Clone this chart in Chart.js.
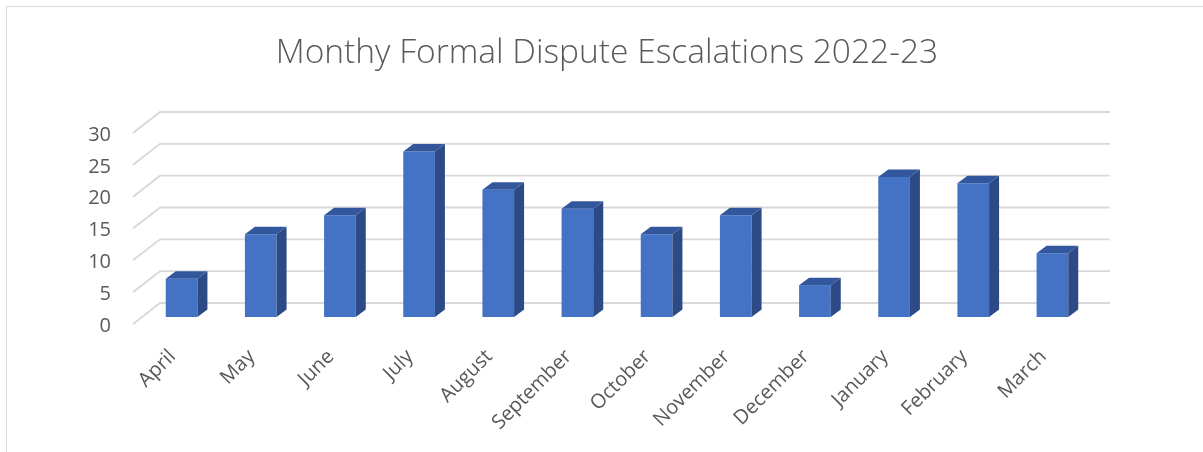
<!DOCTYPE html>
<html>
<head>
<meta charset="utf-8">
<title>Monthy Formal Dispute Escalations 2022-23</title>
<script src="https://cdn.jsdelivr.net/npm/chart.js@4/dist/chart.umd.min.js"></script>
<style>
  html, body { margin: 0; padding: 0; background: #fff; }
  #wrap { position: relative; width: 1203px; height: 452px; }
</style>
</head>
<body>
<div id="wrap"><canvas id="chart" width="1203" height="452"></canvas></div>
<script>
// data
const chartTitle = 'Monthy Formal Dispute Escalations 2022-23';
const months = ['April', 'May', 'June', 'July', 'August', 'September', 'October', 'November', 'December', 'January', 'February', 'March'];
const escalations = [6, 13, 16, 26, 20, 17, 13, 16, 5, 22, 21, 10];
const yMin = 0;
const yMax = 30;
const yStep = 5;

// 3d look
const wall = { dx: 27, dy: -21 };
const barShift = { dx: 9, dy: -7 };
const barDepth = { dx: 10, dy: -7.5 };
const colors = {
  front: '#4472c4',
  top: '#33579c',
  side: '#2b4a86',
  grid: '#d9d9d9',
  text: '#595959'
};
const fontFamily = '"Open Sans", sans-serif';

// background, border, walls and bar faces
const depthPlugin = {
  id: 'depth3d',
  beforeDraw(chart) {
    const ctx = chart.ctx;
    ctx.save();
    ctx.fillStyle = '#fff';
    ctx.fillRect(0, 0, chart.width, chart.height);
    ctx.strokeStyle = colors.grid;
    ctx.lineWidth = 1;
    ctx.strokeRect(6.5, 6.5, chart.width + 20, chart.height + 20);
    ctx.restore();
  },
  beforeDatasetsDraw(chart) {
    const { ctx, chartArea, scales } = chart;
    const y = scales.y;
    ctx.save();
    ctx.strokeStyle = colors.grid;
    ctx.lineWidth = 1.8;
    y.ticks.forEach((tick) => {
      const py = y.getPixelForValue(tick.value);
      ctx.beginPath();
      ctx.moveTo(chartArea.left, py);
      ctx.lineTo(chartArea.left + wall.dx, py + wall.dy);
      ctx.lineTo(chartArea.right + wall.dx, py + wall.dy);
      ctx.stroke();
    });
    ctx.restore();
    // bars sit a bit behind the front plane
    ctx.save();
    ctx.translate(barShift.dx, barShift.dy);
  },
  afterDatasetsDraw(chart) {
    const ctx = chart.ctx;
    chart.getDatasetMeta(0).data.forEach((bar) => {
      const { x, y, base, width } = bar.getProps(['x', 'y', 'base', 'width'], true);
      const l = x - width / 2;
      const r = x + width / 2;
      // side face
      ctx.fillStyle = colors.side;
      ctx.beginPath();
      ctx.moveTo(r, base);
      ctx.lineTo(r + barDepth.dx, base + barDepth.dy);
      ctx.lineTo(r + barDepth.dx, y + barDepth.dy);
      ctx.lineTo(r, y);
      ctx.closePath();
      ctx.fill();
      // top face
      ctx.fillStyle = colors.top;
      ctx.beginPath();
      ctx.moveTo(l, y);
      ctx.lineTo(l + barDepth.dx, y + barDepth.dy);
      ctx.lineTo(r + barDepth.dx, y + barDepth.dy);
      ctx.lineTo(r, y);
      ctx.closePath();
      ctx.fill();
    });
    ctx.restore();
  }
};

new Chart(document.getElementById('chart').getContext('2d'), {
  type: 'bar',
  data: {
    labels: months,
    datasets: [{
      data: escalations,
      backgroundColor: colors.front,
      borderWidth: 0,
      barPercentage: 0.4,
      categoryPercentage: 1
    }]
  },
  options: {
    responsive: false,
    animation: false,
    layout: { padding: { left: 20, right: 9, top: 0, bottom: 0 } },
    plugins: {
      legend: { display: false },
      tooltip: { enabled: false },
      title: {
        display: true,
        text: chartTitle,
        color: colors.text,
        font: { family: fontFamily, size: 33.5, weight: '300', lineHeight: 1.2 },
        padding: { top: 33, bottom: 59.8 }
      }
    },
    scales: {
      x: {
        grid: { display: false, drawTicks: false, tickLength: 0 },
        border: { display: false },
        ticks: {
          autoSkip: false,
          minRotation: 45,
          maxRotation: 45,
          padding: 21,
          color: colors.text,
          font: { family: fontFamily, size: 20 }
        },
        afterFit(scale) { scale.height = 128; }
      },
      y: {
        min: yMin,
        max: yMax,
        grid: { display: false, drawTicks: false, tickLength: 0 },
        border: { display: false },
        ticks: {
          stepSize: yStep,
          padding: 22,
          labelOffset: 2,
          color: colors.text,
          font: { family: fontFamily, size: 20 }
        },
        afterFit(scale) { scale.width = 113; }
      },
      // empty space on the right, keeps the title centred on the page
      yRight: {
        position: 'right',
        grid: { display: false, drawTicks: false, tickLength: 0 },
        border: { display: false },
        ticks: { display: false },
        afterFit(scale) { scale.width = 111; }
      }
    }
  },
  plugins: [depthPlugin]
});
</script>
</body>
</html>
